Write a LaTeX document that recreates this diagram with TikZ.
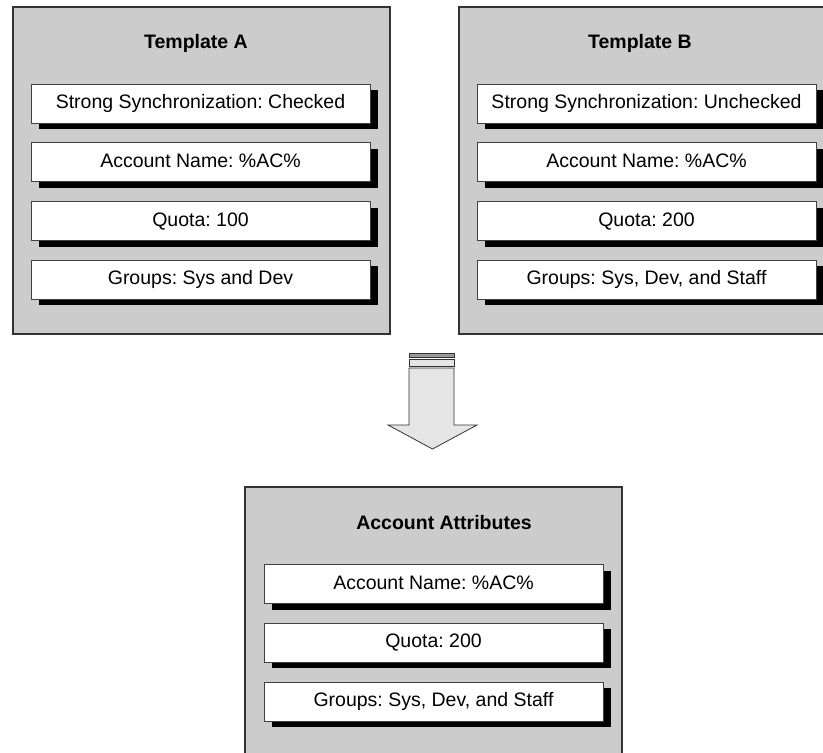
\documentclass[tikz,border=0pt]{standalone}
\usepackage{fontspec}
\setmainfont{Liberation Sans}
\usetikzlibrary{positioning}
\usetikzlibrary{shadows}
\frenchspacing
\begin{document}
\begin{tikzpicture}[x=1pt,y=-1pt,
    font=\fontsize{19.5}{23}\selectfont,
    panel/.style={draw=black!80,line width=1.2pt,fill=black!20,
      minimum width=377pt,minimum height=327pt,inner sep=0pt},
    heading/.style={font=\fontsize{19.5}{23}\selectfont\bfseries},
    attr/.style={draw=black!75,line width=0.8pt,fill=white,
      minimum width=339pt,minimum height=39pt,inner sep=0pt,
      text depth=5pt,text height=15pt,
      drop shadow={shadow xshift=7.5pt,shadow yshift=-6pt,fill=black,opacity=1}},
    node distance=19pt]
      \useasboundingbox (0,0) rectangle (823,753);
      \clip (0,0) rectangle (823,753);

      \node[panel] (panelA) at (201.5,170.5) {};
      \node[heading] (titleA) at (196,43) {Template A};
      \node[attr] (a1) at (200.5,103.5) {Strong Synchronization: Checked};
      \node[attr,below=of a1] (a2) {Account Name: \%AC\%};
      \node[attr,below=of a2] (a3) {Quota: 100};
      \node[attr,below=of a3] (a4) {Groups: Sys and Dev};

      \node[panel] (panelB) at (647.5,170.5) {};
      \node[heading] (titleB) at (640,43) {Template B};
      \node[attr] (b1) at (646.5,103.5) {Strong Synchronization: Unchecked};
      \node[attr,below=of b1] (b2) {Account Name: \%AC\%};
      \node[attr,below=of b2] (b3) {Quota: 200};
      \node[attr,below=of b3] (b4) {Groups: Sys, Dev, and Staff};

      \node[panel,minimum height=269pt] (panelR) at (433.5,621.5) {};
      \node[heading] (titleR) at (444,523) {Account Attributes};
      \node[attr] (r1) at (433.5,584) {Account Name: \%AC\%};
      \node[attr,below=of r1] (r2) {Quota: 200};
      \node[attr,below=of r2] (r3) {Groups: Sys, Dev, and Staff};

      \begin{scope}[draw=black!80,line width=0.8pt]
        \draw[fill=black!40] (409,353) rectangle (454,357.5);
        \draw[fill=black!10] (409,359.5) rectangle (454,366);
        \draw[fill=black!10] (409,368) -- (454,368) -- (454,425) -- (477,425)
          -- (432.5,449) -- (388,425) -- (409,425) -- cycle;
      \end{scope}
    \end{tikzpicture}
\end{document}
